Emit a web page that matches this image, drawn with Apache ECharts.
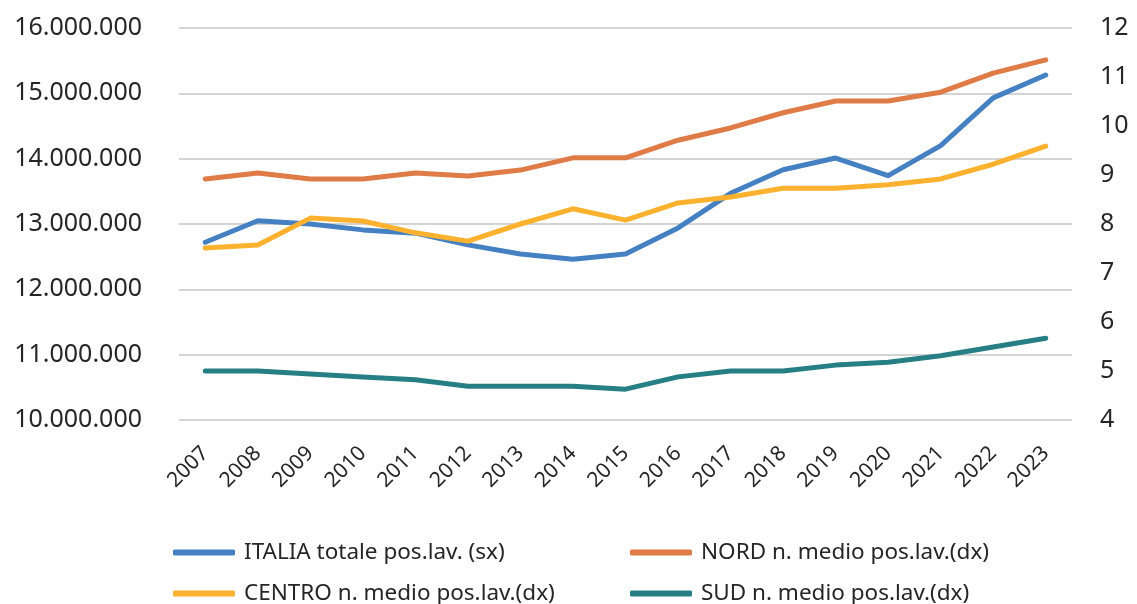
<!DOCTYPE html>
<html lang="it">
<head>
    <meta charset="UTF-8">
    <title>Posizioni lavorative</title>
    <style type="text/css">
        html, body { margin: 0; padding: 0; background: #ffffff; }
        #chart { width: 1137px; height: 604px; }
    </style>
</head>
<body>
<div id="chart"></div>
<script type="text/javascript" src="https://cdn.jsdelivr.net/npm/echarts@6/dist/echarts.min.js"></script>
<script type="text/javascript">
    // anni
    var anni = ['2007', '2008', '2009', '2010', '2011', '2012', '2013', '2014', '2015',
        '2016', '2017', '2018', '2019', '2020', '2021', '2022', '2023'];
    // asse sx
    var italia = [12720000, 13050000, 13000000, 12910000, 12860000, 12680000, 12540000, 12460000, 12540000,
        12940000, 13470000, 13830000, 14010000, 13740000, 14200000, 14930000, 15280000];
    // asse dx
    var nord = [8.92, 9.04, 8.92, 8.92, 9.04, 8.98, 9.10, 9.35, 9.35,
        9.71, 9.96, 10.27, 10.51, 10.51, 10.69, 11.08, 11.35];
    var centro = [7.51, 7.57, 8.12, 8.06, 7.82, 7.65, 8.00, 8.31, 8.08,
        8.43, 8.55, 8.73, 8.73, 8.80, 8.92, 9.22, 9.59];
    var sud = [5.00, 5.00, 4.94, 4.88, 4.82, 4.69, 4.69, 4.69, 4.63,
        4.88, 5.00, 5.00, 5.12, 5.18, 5.31, 5.49, 5.67];

    var nomi = ['ITALIA totale pos.lav. (sx)', 'NORD n. medio pos.lav.(dx)',
        'CENTRO n. medio pos.lav.(dx)', 'SUD n. medio pos.lav.(dx)'];
    var colori = ['#4580C3', '#DF7B47', '#FDB22F', '#277F86'];

    var font = '"Noto Sans", "DejaVu Sans", sans-serif';

    function fmt(v) {
        return String(v).replace(/\B(?=(\d{3})+(?!\d))/g, '.');
    }

    function voce(i, left, top) {
        return {
            data: [nomi[i]],
            left: left,
            top: top,
            icon: 'roundRect',
            itemWidth: 62,
            itemHeight: 6,
            itemGap: 0,
            textStyle: { fontFamily: font, fontSize: 22.5, color: '#262626', padding: [0, 0, 0, 4] }
        };
    }

    function linea(i, dati, asse) {
        return {
            name: nomi[i],
            type: 'line',
            yAxisIndex: asse,
            data: dati,
            showSymbol: false,
            symbol: 'none',
            color: colori[i],
            lineStyle: { width: 5, color: colori[i], cap: 'round', join: 'round' }
        };
    }

    var chart = echarts.init(document.getElementById('chart'));
    chart.setOption({
        animation: false,
        grid: { left: 179, right: 65, top: 28, bottom: 184 },
        legend: [
            voce(0, 168, 536),
            voce(1, 625, 536),
            voce(2, 168, 577),
            voce(3, 625, 577)
        ],
        xAxis: {
            type: 'category',
            data: anni,
            boundaryGap: true,
            axisLine: { show: false },
            axisTick: { show: false },
            axisLabel: {
                rotate: 45,
                margin: 30,
                fontFamily: font,
                fontSize: 21,
                color: '#262626'
            }
        },
        yAxis: [{
            type: 'value',
            min: 10000000,
            max: 16000000,
            interval: 1000000,
            axisLine: { show: false },
            axisTick: { show: false },
            axisLabel: {
                margin: 37,
                fontFamily: font,
                fontSize: 25,
                color: '#262626',
                formatter: fmt
            },
            splitLine: { lineStyle: { color: '#c6c6c6', width: 1.5 } }
        }, {
            type: 'value',
            position: 'right',
            min: 4,
            max: 12,
            interval: 1,
            axisLine: { show: false },
            axisTick: { show: false },
            axisLabel: {
                margin: 28,
                fontFamily: font,
                fontSize: 25,
                color: '#262626'
            },
            splitLine: { show: false }
        }],
        series: [
            linea(0, italia, 0),
            linea(1, nord, 1),
            linea(2, centro, 1),
            linea(3, sud, 1)
        ]
    });
</script>
</body>
</html>
